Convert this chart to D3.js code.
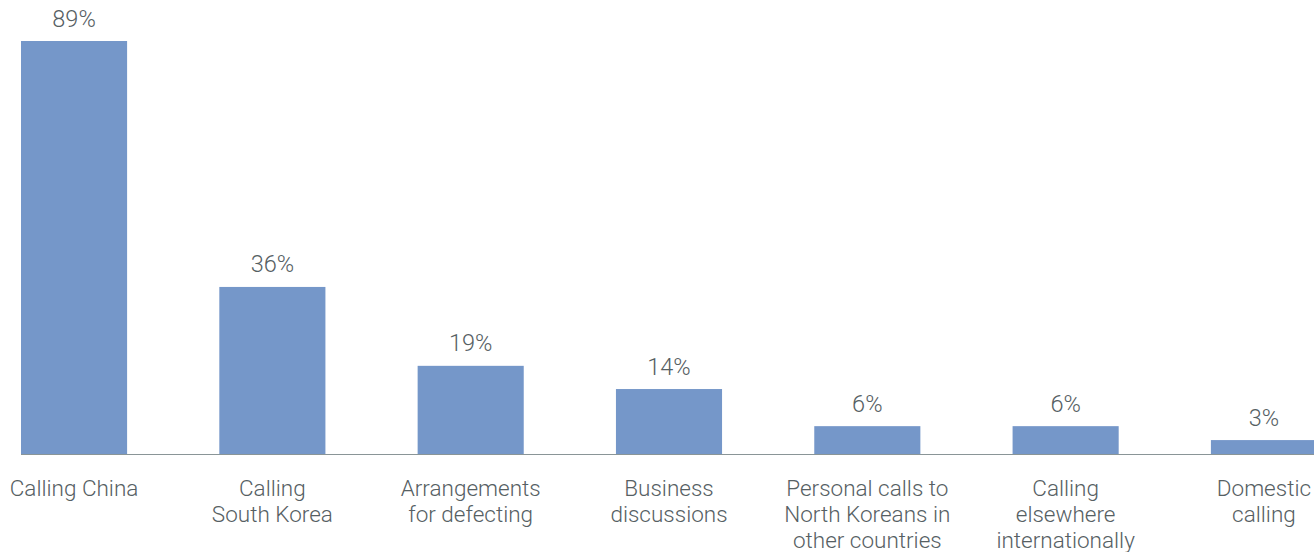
<!DOCTYPE html>
<html><head><meta charset="utf-8">
<script src="https://cdn.jsdelivr.net/npm/d3@7"></script>
<style>
html,body{margin:0;padding:0;background:#fff;overflow:hidden;}
svg{display:block;}
text{font-family:"Roboto","Liberation Sans",sans-serif;font-weight:300;fill:#566063;}
</style></head>
<body>
<svg id="chart" width="1314" height="552"></svg>
<script>
const categories = [
  ["Calling China"],
  ["Calling", "South Korea"],
  ["Arrangements", "for defecting"],
  ["Business", "discussions"],
  ["Personal calls to", "North Koreans in", "other countries"],
  ["Calling", "elsewhere", "internationally"],
  ["Domestic", "calling"]
];
const values = [89, 36, 19, 14, 6, 6, 3];
const valueLabels = ["89%", "36%", "19%", "14%", "6%", "6%", "3%"];

const svg = d3.select("#chart");
const keys = categories.map((c, i) => i);
const x = d3.scaleBand().domain(keys).range([21, 1317]).paddingInner(0.465).paddingOuter(0);
const y = d3.scaleLinear().domain([0, 89]).range([454, 41]);

svg.selectAll("rect.bar").data(values).enter().append("rect")
  .attr("class", "bar")
  .attr("x", (d, i) => x(i))
  .attr("width", x.bandwidth())
  .attr("y", d => y(d))
  .attr("height", d => y(0) - y(d))
  .attr("fill", "#7597c9");

svg.append("line")
  .attr("x1", 21).attr("x2", 1314)
  .attr("y1", y(0) + 0.5).attr("y2", y(0) + 0.5)
  .attr("stroke", "#8a9597").attr("stroke-width", 1.2);

svg.selectAll("text.val").data(values).enter().append("text")
  .attr("class", "val")
  .attr("x", (d, i) => x(i) + x.bandwidth() / 2)
  .attr("y", d => y(d) - 14.5)
  .attr("text-anchor", "middle")
  .style("font-size", "23.5px")
  .text((d, i) => valueLabels[i]);

const lab = svg.selectAll("text.cat").data(categories).enter().append("text")
  .attr("class", "cat")
  .attr("text-anchor", "middle")
  .style("font-size", "22.5px");
lab.each(function(lines, i) {
  const t = d3.select(this);
  lines.forEach((l, j) => {
    t.append("tspan")
      .attr("x", x(i) + x.bandwidth() / 2)
      .attr("y", 496 + j * 26)
      .text(l);
  });
});
</script>
</body></html>
